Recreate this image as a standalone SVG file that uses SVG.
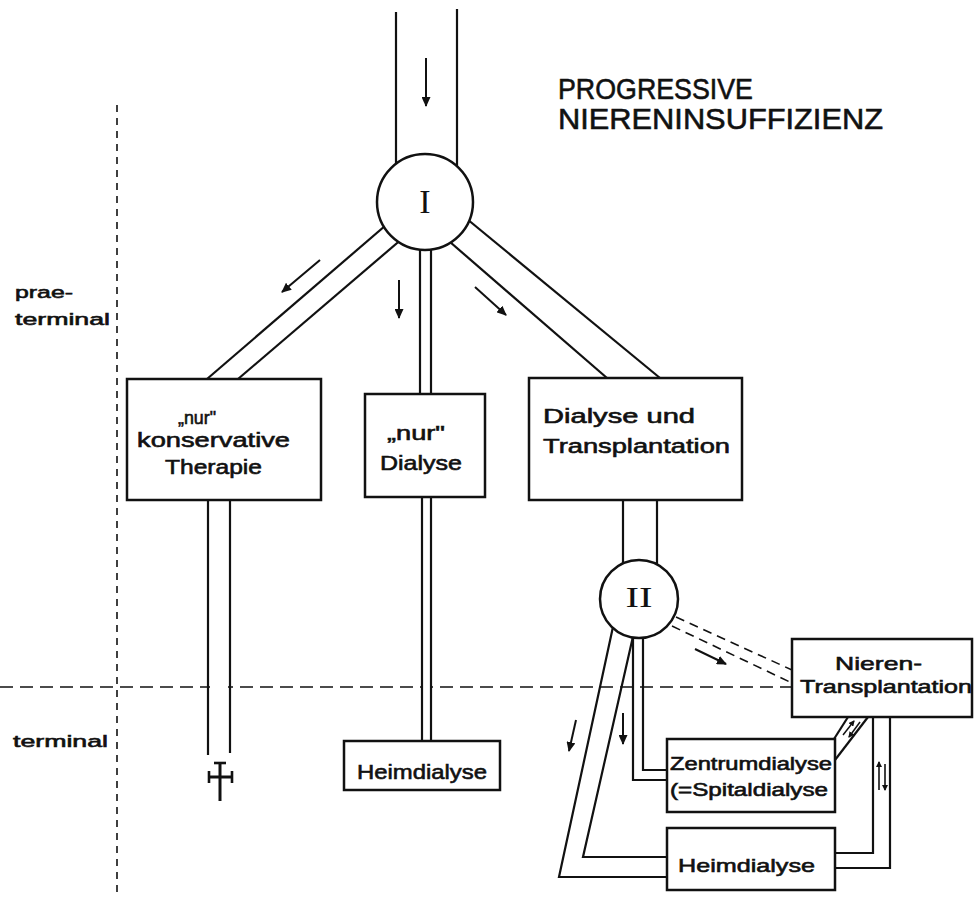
<svg xmlns="http://www.w3.org/2000/svg" width="976" height="897" viewBox="0 0 976 897">
<style>
.ln{stroke:#111;stroke-width:2.2;fill:none}
.bx{stroke:#111;stroke-width:2.5;fill:#fff}
.ci{stroke:#111;stroke-width:2.5;fill:#fff}
.ar{stroke:#111;stroke-width:2;fill:none;marker-end:url(#ah)}
.dash{stroke:#111;stroke-width:1.6;fill:none;stroke-dasharray:13 7}
.vdash{stroke:#111;stroke-width:1.6;fill:none;stroke-dasharray:7 6}
.t{font-family:"Liberation Sans",Arial,sans-serif;fill:#111;stroke:#111;stroke-width:0.6}
.r{font-family:"Liberation Serif","Times New Roman",serif;fill:#111}
</style>
<defs>
<marker id="ah" markerUnits="userSpaceOnUse" markerWidth="10" markerHeight="9" refX="9" refY="4.5" orient="auto">
<path d="M0,0 L10,4.5 L0,9 z" fill="#111"/>
</marker>
<marker id="ahs" markerUnits="userSpaceOnUse" markerWidth="6" markerHeight="6" refX="5" refY="3" orient="auto">
<path d="M0,0 L6,3 L0,6 z" fill="#111"/>
</marker>
</defs>
<rect width="976" height="897" fill="#fff"/>

<g id="dividers">
<line class="vdash" x1="117" y1="105" x2="117" y2="897"/>
<line class="dash" x1="0" y1="687" x2="792" y2="687"/>
<rect x="210" y="680" width="18" height="14" fill="#fff"/>
<rect x="423" y="680" width="7" height="14" fill="#fff"/>
</g>

<g id="connectors">
<line class="ln" x1="396" y1="12" x2="396" y2="175"/>
<line class="ln" x1="457" y1="9" x2="457" y2="175"/>
<line class="ln" x1="400" y1="213" x2="207" y2="379"/>
<line class="ln" x1="410" y1="232" x2="238" y2="379"/>
<line class="ln" x1="420" y1="230" x2="420" y2="394"/>
<line class="ln" x1="431" y1="230" x2="431" y2="394"/>
<line class="ln" x1="450" y1="205" x2="660" y2="378"/>
<line class="ln" x1="435" y1="229" x2="607" y2="378"/>
<line class="ln" x1="208" y1="500" x2="208" y2="755"/>
<line class="ln" x1="230" y1="500" x2="230" y2="753"/>
<line class="ln" x1="422" y1="497" x2="422" y2="741"/>
<line class="ln" x1="431" y1="497" x2="431" y2="741"/>
<line class="ln" x1="623" y1="500" x2="623" y2="590"/>
<line class="ln" x1="657" y1="500" x2="657" y2="590"/>
<polyline class="ln" points="619,599 559,877 667,877"/>
<polyline class="ln" points="639,610 583,857 667,857"/>
<polyline class="ln" points="633,620 633,780 667,780"/>
<polyline class="ln" points="643,620 643,770 667,770"/>
<line class="dash" x1="676" y1="617" x2="792" y2="670" style="stroke-dasharray:9 6"/>
<line class="dash" x1="672" y1="626" x2="792" y2="683" style="stroke-dasharray:9 6"/>
<line class="ln" x1="848" y1="717" x2="834" y2="739"/>
<line class="ln" x1="868" y1="717" x2="835" y2="760"/>
<polyline class="ln" points="873,717 873,853 835,853"/>
<polyline class="ln" points="890,717 890,868 835,868"/>
<line class="ar" x1="426" y1="58" x2="426" y2="106"/>
<line class="ar" x1="320" y1="260" x2="282" y2="292"/>
<line class="ar" x1="399" y1="280" x2="399" y2="318"/>
<line class="ar" x1="475" y1="287" x2="506" y2="315"/>
<line class="ar" x1="695" y1="649" x2="726" y2="664"/>
<line class="ar" x1="623" y1="713" x2="623" y2="744"/>
<line class="ar" x1="576" y1="720" x2="569" y2="751"/>
<line class="ln" x1="843" y1="735" x2="854" y2="721" style="stroke-width:1.5;marker-end:url(#ahs)"/>
<line class="ln" x1="860" y1="722" x2="849" y2="737" style="stroke-width:1.5;marker-end:url(#ahs)"/>
<line class="ln" x1="879" y1="790" x2="879" y2="762" style="stroke-width:1.6;marker-end:url(#ahs)"/>
<line class="ln" x1="885" y1="764" x2="885" y2="790" style="stroke-width:1.6;marker-end:url(#ahs)"/>
</g>

<g id="title">
<text class="t" x="558" y="99" font-size="30" textLength="195" lengthAdjust="spacingAndGlyphs">PROGRESSIVE</text>
<text class="t" x="558" y="129" font-size="30" textLength="325" lengthAdjust="spacingAndGlyphs">NIERENINSUFFIZIENZ</text>
</g>

<g id="labels">
<text class="t" x="15" y="298" font-size="17" textLength="58" lengthAdjust="spacingAndGlyphs">prae-</text>
<text class="t" x="15" y="325" font-size="17" textLength="95" lengthAdjust="spacingAndGlyphs">terminal</text>
<text class="t" x="13" y="747" font-size="17" textLength="95" lengthAdjust="spacingAndGlyphs">terminal</text>
</g>

<g id="node-I">
<circle class="ci" cx="425" cy="202" r="48"/>
<text class="r" x="425" y="213" font-size="34" text-anchor="middle">I</text>
</g>

<g id="node-konservativ">
<rect class="bx" x="127" y="379" width="194" height="121"/>
<text class="t" x="178" y="424" font-size="19" textLength="38" lengthAdjust="spacingAndGlyphs">„nur"</text>
<text class="t" x="137" y="447" font-size="20" textLength="153" lengthAdjust="spacingAndGlyphs">konservative</text>
<text class="t" x="165" y="474" font-size="20" textLength="97" lengthAdjust="spacingAndGlyphs">Therapie</text>
</g>

<g id="node-dialyse">
<rect class="bx" x="365" y="394" width="120" height="103"/>
<text class="t" x="387" y="440" font-size="20" textLength="58" lengthAdjust="spacingAndGlyphs">„nur"</text>
<text class="t" x="380" y="470" font-size="21" textLength="82" lengthAdjust="spacingAndGlyphs">Dialyse</text>
</g>

<g id="node-dial-trans">
<rect class="bx" x="529" y="378" width="213" height="122"/>
<text class="t" x="543" y="423" font-size="20" textLength="152" lengthAdjust="spacingAndGlyphs">Dialyse und</text>
<text class="t" x="543" y="453" font-size="20" textLength="187" lengthAdjust="spacingAndGlyphs">Transplantation</text>
</g>

<g id="node-II">
<circle class="ci" cx="639" cy="599" r="39"/>
<text class="r" x="639" y="607" font-size="30" text-anchor="middle" textLength="27" lengthAdjust="spacingAndGlyphs">II</text>
</g>

<g id="node-cross">
<line class="ln" x1="220" y1="762" x2="220" y2="801" style="stroke-width:3"/>
<line class="ln" x1="209" y1="777" x2="232" y2="777" style="stroke-width:3"/>
<line class="ln" x1="214" y1="763" x2="226" y2="763" style="stroke-width:2.6"/>
<line class="ln" x1="209" y1="771" x2="209" y2="783" style="stroke-width:2.6"/>
<line class="ln" x1="232" y1="771" x2="232" y2="783" style="stroke-width:2.6"/>
</g>

<g id="node-heim1">
<rect class="bx" x="344" y="741" width="156" height="49"/>
<text class="t" x="357" y="779" font-size="21" textLength="130" lengthAdjust="spacingAndGlyphs">Heimdialyse</text>
</g>

<g id="node-nieren">
<rect class="bx" x="792" y="639" width="180" height="78"/>
<text class="t" x="835" y="670" font-size="19" textLength="87" lengthAdjust="spacingAndGlyphs">Nieren-</text>
<text class="t" x="800" y="693" font-size="19" textLength="172" lengthAdjust="spacingAndGlyphs">Transplantation</text>
</g>

<g id="node-zentrum">
<rect class="bx" x="667" y="739" width="168" height="73"/>
<text class="t" x="670" y="770" font-size="18" textLength="162" lengthAdjust="spacingAndGlyphs">Zentrumdialyse</text>
<text class="t" x="670" y="796" font-size="18" textLength="158" lengthAdjust="spacingAndGlyphs">(=Spitaldialyse</text>
</g>

<g id="node-heim2">
<rect class="bx" x="667" y="828" width="168" height="62"/>
<text class="t" x="678" y="872" font-size="19" textLength="137" lengthAdjust="spacingAndGlyphs">Heimdialyse</text>
</g>
</svg>
